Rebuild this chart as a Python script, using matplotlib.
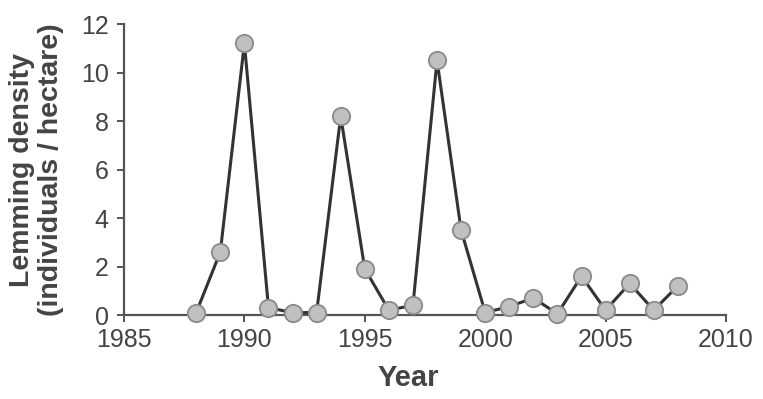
import matplotlib
matplotlib.use("Agg")
import matplotlib.pyplot as plt

# Lemming density per year
years = [1988, 1989, 1990, 1991, 1992, 1993, 1994, 1995, 1996, 1997, 1998,
         1999, 2000, 2001, 2002, 2003, 2004, 2005, 2006, 2007, 2008]
density = [0.1, 2.6, 11.2, 0.3, 0.1, 0.1, 8.2, 1.9, 0.2, 0.4, 10.5,
           3.5, 0.1, 0.35, 0.7, 0.05, 1.6, 0.2, 1.3, 0.2, 1.2]

x_ticks = [1985, 1990, 1995, 2000, 2005, 2010]
y_ticks = [0, 2, 4, 6, 8, 10, 12]

plt.rcParams['font.family'] = ['Liberation Sans', 'DejaVu Sans']

fig = plt.figure(figsize=(7.63, 3.99), dpi=100)
ax = fig.add_axes([0.1625, 0.2105, 0.789, 0.7293])

ax.plot(years, density, color='#333333', linewidth=2.2, marker='o',
        markersize=12.5, markerfacecolor='#c0c0c0', markeredgecolor='#8a8a8a',
        markeredgewidth=1.3, clip_on=False, zorder=3)

ax.set_xlim(1985, 2010)
ax.set_ylim(0, 12)
ax.set_xticks(x_ticks)
ax.set_yticks(y_ticks)

for s in ['top', 'right']:
    ax.spines[s].set_visible(False)
for s in ['left', 'bottom']:
    ax.spines[s].set_color('#555555')
    ax.spines[s].set_linewidth(1.6)

ax.tick_params(axis='both', colors='#555555', labelcolor='#444444',
               labelsize=18, length=5, width=1.4, direction='out')
ax.tick_params(axis='x', pad=4)
ax.tick_params(axis='y', pad=6)

ax.set_xlabel('Year', fontsize=21, fontweight='bold', color='#444444',
              labelpad=9, x=0.472)
ax.set_ylabel('Lemming density\n(individuals / hectare)', fontsize=20.5,
              fontweight='bold', color='#444444', linespacing=1.15, labelpad=12)

fig.savefig('out.png', dpi=100, facecolor='white')
